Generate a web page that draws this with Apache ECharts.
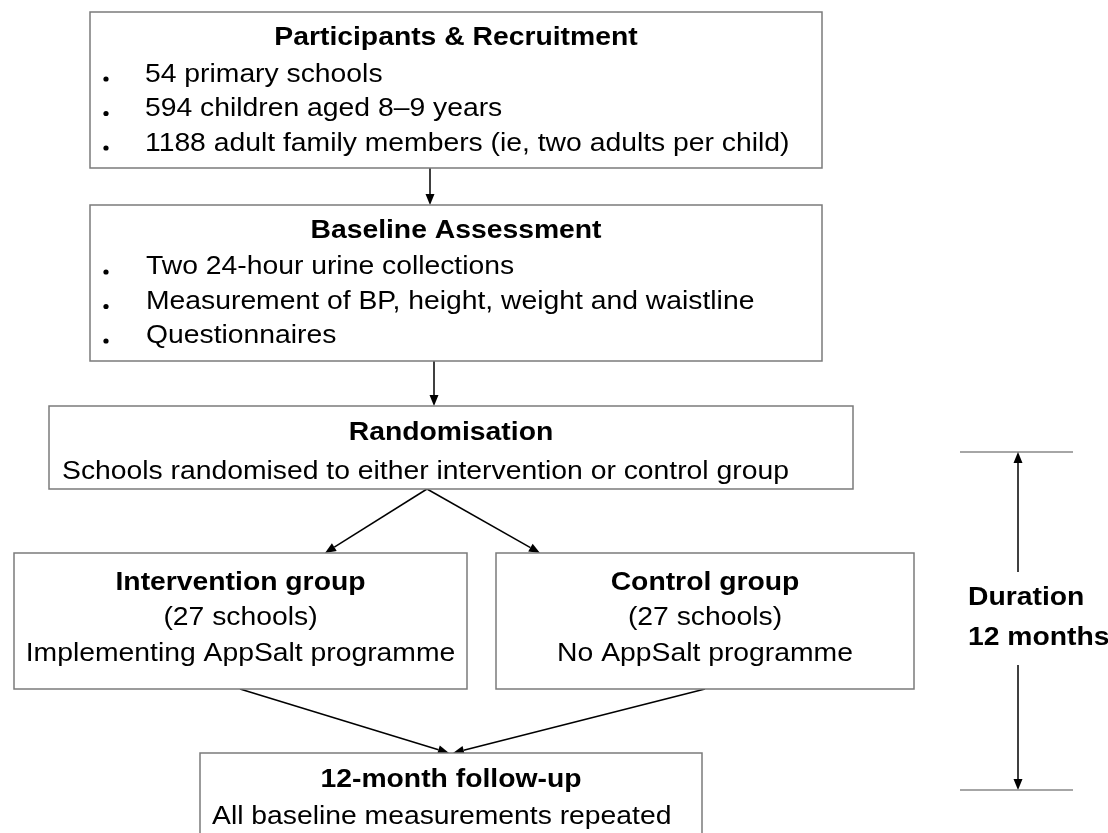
<!DOCTYPE html>
<html>
<head>
<meta charset="utf-8">
<script src="https://cdn.jsdelivr.net/npm/echarts@6/dist/echarts.min.js"></script>
<style>
html,body{margin:0;padding:0;background:#fff;}
#main{width:1108px;height:833px;}
</style>
</head>
<body>
<div id="main"></div>
<script>
// texts of the flow chart
var boxTitles = ['Participants & Recruitment', 'Baseline Assessment', 'Randomisation',
	'Intervention group', 'Control group', '12-month follow-up'];
var recruitItems = ['54 primary schools', '594 children aged 8\u20139 years',
	'1188 adult family members (ie, two adults per child)'];
var baselineItems = ['Two 24-hour urine collections',
	'Measurement of BP, height, weight and waistline', 'Questionnaires'];
var randomText = ['Schools randomised to either intervention or control group'];
var interventionText = ['(27 schools)', 'Implementing AppSalt programme'];
var controlText = ['(27 schools)', 'No AppSalt programme'];
var followUpText = ['All baseline measurements repeated'];
var durationText = ['Duration', '12 months'];

;(function(){
	var myChart = echarts.init(document.getElementById('main'), null, {renderer: 'canvas'});
	var FONT = '"Liberation Sans", Arial, sans-serif';
	var FS = 25.5, SX = 1.11;   // the picture is a little stretched sideways
	var els = [];

	function box(x, y, w, h){
		els.push({type: 'rect', shape: {x: x, y: y, width: w, height: h},
			style: {fill: '#fff', stroke: '#7b7b7b', lineWidth: 1.5}});
	}
	function txt(s, x, y, bold, align){
		els.push({type: 'text', x: x, y: y, scaleX: SX,
			style: {text: s, fill: '#000', fontFamily: FONT, fontSize: FS,
				fontWeight: bold ? 'bold' : 'normal',
				align: align || 'center', verticalAlign: 'middle',
				textAlign: align || 'center', textVerticalAlign: 'middle'}});
	}
	function dot(x, y){
		els.push({type: 'circle', shape: {cx: x, cy: y, r: 2.6}, style: {fill: '#000'}});
	}
	function line(x1, y1, x2, y2, c){
		els.push({type: 'line', shape: {x1: x1, y1: y1, x2: x2, y2: y2},
			style: {stroke: c || '#000', lineWidth: 1.5}});
	}
	function arrow(x1, y1, x2, y2){
		var dx = x2 - x1, dy = y2 - y1, L = Math.sqrt(dx * dx + dy * dy);
		var ux = dx / L, uy = dy / L, hl = 11, hw = 4.5;
		var bx = x2 - ux * hl, by = y2 - uy * hl;
		line(x1, y1, bx, by);
		els.push({type: 'polygon', shape: {points: [[x2, y2],
			[bx - uy * hw, by + ux * hw], [bx + uy * hw, by - ux * hw]]},
			style: {fill: '#000'}});
	}

	// arrows first, boxes drawn over them
	arrow(430, 168, 430, 205);
	arrow(434, 361, 434, 406);
	arrow(427, 489, 325, 553);
	arrow(427, 489, 540, 553);
	arrow(240, 689, 449, 753);
	arrow(705, 689, 453, 753);

	// participants
	box(90, 12, 732, 156);
	txt(boxTitles[0], 456, 37.5, true);
	recruitItems.forEach(function(s, i){
		dot(106, 79 + i * 34.5);
		txt(s, 145, 74.5 + i * 34.5, false, 'left');
	});

	// baseline
	box(90, 205, 732, 156);
	txt(boxTitles[1], 456, 231, true);
	baselineItems.forEach(function(s, i){
		dot(106, 272 + i * 34.5);
		txt(s, 146, 267 + i * 34.5, false, 'left');
	});

	// randomisation
	box(49, 406, 804, 83);
	txt(boxTitles[2], 451, 433, true);
	txt(randomText[0], 62, 472, false, 'left');

	// two groups
	box(14, 553, 453, 136);
	txt(boxTitles[3], 240.5, 583, true);
	interventionText.forEach(function(s, i){ txt(s, 240.5, 618 + i * 36, false); });
	box(496, 553, 418, 136);
	txt(boxTitles[4], 705, 583, true);
	controlText.forEach(function(s, i){ txt(s, 705, 618 + i * 36, false); });

	// follow-up
	box(200, 753, 502, 110);
	txt(boxTitles[5], 451, 780, true);
	txt(followUpText[0], 212, 817, false, 'left');

	// duration marker
	line(960, 452, 1073, 452, '#888');
	arrow(1018, 572, 1018, 452);
	arrow(1018, 665, 1018, 790);
	line(960, 790, 1073, 790, '#888');
	txt(durationText[0], 968, 598, true, 'left');
	txt(durationText[1], 968, 638, true, 'left');

	var option = {
		backgroundColor: '#fff',
		animation: false,
		graphic: {elements: els}
	};
	myChart.setOption(option);
})();
</script>
</body>
</html>
